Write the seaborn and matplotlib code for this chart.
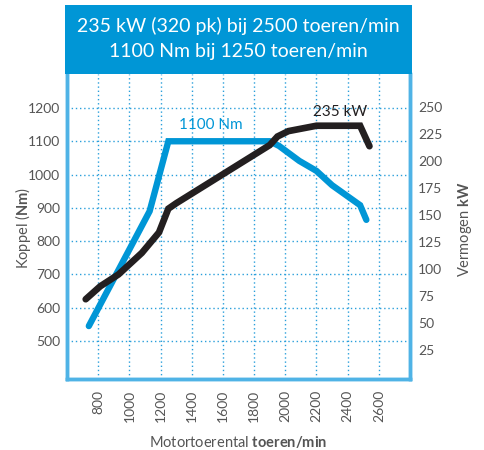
import matplotlib
matplotlib.use("Agg")
import matplotlib.pyplot as plt
import seaborn as sns
import pandas as pd
from matplotlib.patches import Rectangle

# torque curve (Nm) vs rpm
torque_rpm = [740, 1000, 1130, 1250, 1900, 1960, 2090, 2200, 2300, 2480, 2520]
torque_nm = [545, 775, 890, 1100, 1100, 1086, 1041, 1011, 968, 908, 864]

# power curve (kW) vs rpm
power_rpm = [720, 813, 930, 1080, 1190, 1250, 1300, 1900, 1950, 2020, 2200, 2480, 2540]
power_kw = [72, 84, 95, 115, 134, 156, 161, 215, 223, 228, 233, 233, 214]

x_ticks = [800, 1000, 1200, 1400, 1600, 1800, 2000, 2200, 2400, 2600]
nm_ticks = [500, 600, 700, 800, 900, 1000, 1100, 1200]
kw_ticks = [25, 50, 75, 100, 125, 150, 175, 200, 225, 250]

title_lines = ["235 kW (320 pk) bij 2500 toeren/min", "1100 Nm bij 1250 toeren/min"]

BLUE = "#0096d6"
BLACK = "#231f20"
GRID = "#2a9fdb"
GREY = "#555555"

sns.set_style("white")
plt.rcParams["font.family"] = ["Lato", "DejaVu Sans"]
plt.rcParams["mathtext.fontset"] = "custom"
plt.rcParams["mathtext.rm"] = "Lato"
plt.rcParams["mathtext.bf"] = "Lato:bold"

fig = plt.figure(figsize=(4.84, 4.5), dpi=100)
ax = fig.add_axes([67 / 484, 1 - 379 / 450, 343 / 484, 305 / 450])
ax2 = ax.twinx()

df_t = pd.DataFrame({"rpm": torque_rpm, "val": torque_nm})
df_p = pd.DataFrame({"rpm": power_rpm, "val": power_kw})

ax.set_xlim(600, 2800)
ax.set_ylim(386, 1302)
ax2.set_ylim(-2, 281)

ax.set_xticks(x_ticks)
ax.set_yticks(nm_ticks)
ax2.set_yticks(kw_ticks)
ax.grid(True, color=GRID, linestyle=(0, (1, 2)), linewidth=1.0)
ax.set_axisbelow(True)

sns.lineplot(data=df_t, x="rpm", y="val", ax=ax, color=BLUE, linewidth=4.6,
             solid_capstyle="round", solid_joinstyle="miter", sort=False)
sns.lineplot(data=df_p, x="rpm", y="val", ax=ax2, color=BLACK, linewidth=4.8,
             solid_capstyle="round", solid_joinstyle="miter", sort=False)

ax.text(1520, 1148, "1100 Nm", color=BLUE, fontsize=11, ha="center", va="center")
ax2.text(2350, 250 - (113 - 108) / 1.0756, "235 kW", color=BLACK, fontsize=11,
         ha="center", va="center")

ax.set_xticklabels([str(v) for v in x_ticks], rotation=90)
ax.tick_params(axis="x", length=2, pad=6, labelsize=10, labelcolor=GREY, color=GRID)
ax.tick_params(axis="y", length=0, pad=5, labelsize=10, labelcolor=GREY)
ax2.tick_params(axis="y", length=0, pad=6, labelsize=10, labelcolor=GREY)

ax.set_xlabel(r"Motortoerental $\mathbf{toeren/min}$", fontsize=10.5, color=GREY, va="center")
ax.set_ylabel(r"Koppel ($\mathbf{Nm}$)", fontsize=10.5, color=GREY, va="center")
ax2.set_ylabel(r"Vermogen $\mathbf{kW}$", fontsize=10.5, color=GREY, va="center", rotation=90)
ax.xaxis.set_label_coords(0.4985, -0.207)
ax.yaxis.set_label_coords(-0.128, 0.495)
ax2.yaxis.set_label_coords(1.16, 0.49)

for a in (ax, ax2):
    for side in ("left", "right", "bottom"):
        a.spines[side].set_color("#4fb3e6")
        a.spines[side].set_linewidth(2.5)
    a.spines["top"].set_visible(False)

# title banner
fig.patches.append(Rectangle((65 / 484, 1 - 74 / 450), 347 / 484, 69 / 450,
                             transform=fig.transFigure, facecolor=BLUE,
                             edgecolor="none", zorder=0))
fig.text(238 / 484, 1 - 26 / 450, title_lines[0], color="white", fontsize=14,
         ha="center", va="center")
fig.text(238 / 484, 1 - 52 / 450, title_lines[1], color="white", fontsize=14,
         ha="center", va="center")

fig.savefig("out.png", dpi=100)
